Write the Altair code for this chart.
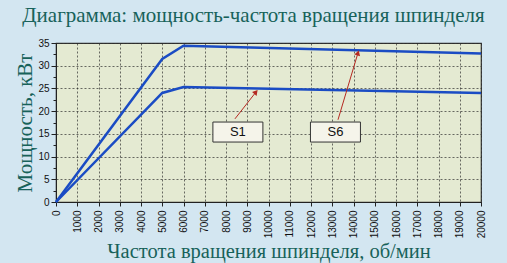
import altair as alt
import pandas as pd

# Data
rpm = [0, 5000, 6000, 20000]
s6_kw = [0, 31.5, 34.4, 32.7]
s1_kw = [0, 24.0, 25.3, 24.0]

labels = ["S1", "S6"]
label_x = [8560, 13150]
label_y = [15.4, 15.4]
arrow_x0 = [8420, 13270]
arrow_y0 = [18.3, 18.1]
arrow_x1 = [9410, 14210]
arrow_y1 = [24.2, 32.8]
arrow_angle = [40, 17]

x_ticks = list(range(0, 20001, 1000))
y_ticks = [i * 2.5 for i in range(15)]

lines = pd.DataFrame({
    "rpm": rpm * 2,
    "kw": s6_kw + s1_kw,
    "mode": ["S6"] * len(rpm) + ["S1"] * len(rpm),
})
ann = pd.DataFrame({
    "label": labels, "lx": label_x, "ly": label_y,
    "x0": arrow_x0, "y0": arrow_y0, "x1": arrow_x1, "y1": arrow_y1,
    "angle": arrow_angle,
})

teal = "#17625a"
xscale = alt.Scale(domain=[0, 20000], nice=False)
yscale = alt.Scale(domain=[0, 35], nice=False)

xaxis = alt.Axis(
    values=x_ticks, format="d", labelAngle=-90, labelAlign="right", labelBaseline="middle",
    labelFont="Liberation Sans", labelFontSize=10, labelColor="#111",
    labelPadding=4, tickSize=4, tickColor="#222", domainColor="#222",
    grid=True, gridColor="#2a2a2a", gridDash=[2, 2], gridWidth=0.8, gridOpacity=0.85,
    title="Частота вращения шпинделя, об/мин", titleFont="Liberation Serif",
    titleFontSize=20.5, titleFontWeight="normal", titleColor=teal, titlePadding=4,
    labelOverlap=False, labelFlush=False,
)
yaxis = alt.Axis(
    values=y_ticks, labelExpr="datum.value % 5 == 0 ? datum.label : ''",
    labelFont="Liberation Sans", labelFontSize=10, labelColor="#111",
    tickColor="#222", domainColor="#222",
    tickSize={"condition": {"test": "datum.value % 5 == 0", "value": 5}, "value": 3},
    grid=True, gridColor="#2a2a2a", gridDash=[2, 2], gridWidth=0.8,
    gridOpacity={"condition": {"test": "datum.value % 5 == 0", "value": 0.85}, "value": 0},
    title="Мощность, кВт", titleFont="Liberation Serif", titleFontSize=21,
    titleFontWeight="normal", titleColor=teal, titlePadding=2,
    labelPadding=2, labelOverlap=False,
)


def X(field):
    return alt.X(field, scale=xscale, axis=xaxis)


def Y(field):
    return alt.Y(field, scale=yscale, axis=yaxis)


base_lines = alt.Chart(lines).mark_line(color="#1a4cc4", strokeWidth=2.5).encode(
    x=X("rpm:Q"), y=Y("kw:Q"), detail="mode:N",
)

arrows = alt.Chart(ann).mark_rule(color="#b52a22", strokeWidth=1).encode(
    x=X("x0:Q"), y=Y("y0:Q"), x2="x1:Q", y2="y1:Q",
)
heads = alt.Chart(ann).mark_point(
    shape="triangle-up", filled=True, color="#b52a22", size=35, opacity=1
).encode(
    x=X("x1:Q"), y=Y("y1:Q"),
    angle=alt.Angle("angle:Q", scale=None),
)

boxes = alt.Chart(ann).mark_point(
    shape="M-1.25,-0.5L1.25,-0.5L1.25,0.5L-1.25,0.5Z", size=1600, filled=True,
    fill="#f5f4ea", stroke="#333", strokeWidth=1, opacity=1,
).encode(x=X("lx:Q"), y=Y("ly:Q"))
texts = alt.Chart(ann).mark_text(
    font="Liberation Sans", fontSize=13, color="#111"
).encode(x=X("lx:Q"), y=Y("ly:Q"), text="label:N")

chart = alt.layer(base_lines, arrows, heads, boxes, texts).properties(
    width=425, height=159,
    title=alt.TitleParams(
        "Диаграмма: мощность-частота вращения шпинделя",
        font="Liberation Serif", fontSize=21, fontWeight="normal", color=teal,
        anchor="middle", frame="group", dx=-15, offset=12,
    ),
    autosize=alt.AutoSizeParams(type="none"),
    padding={"left": 56, "top": 43, "right": 26, "bottom": 61},
    background="#d3e6f1",
).configure_view(
    fill="#e4ead2", stroke="#333", strokeWidth=1.2,
)

chart.save("out.html", embed_options={"renderer": "svg", "actions": False})
